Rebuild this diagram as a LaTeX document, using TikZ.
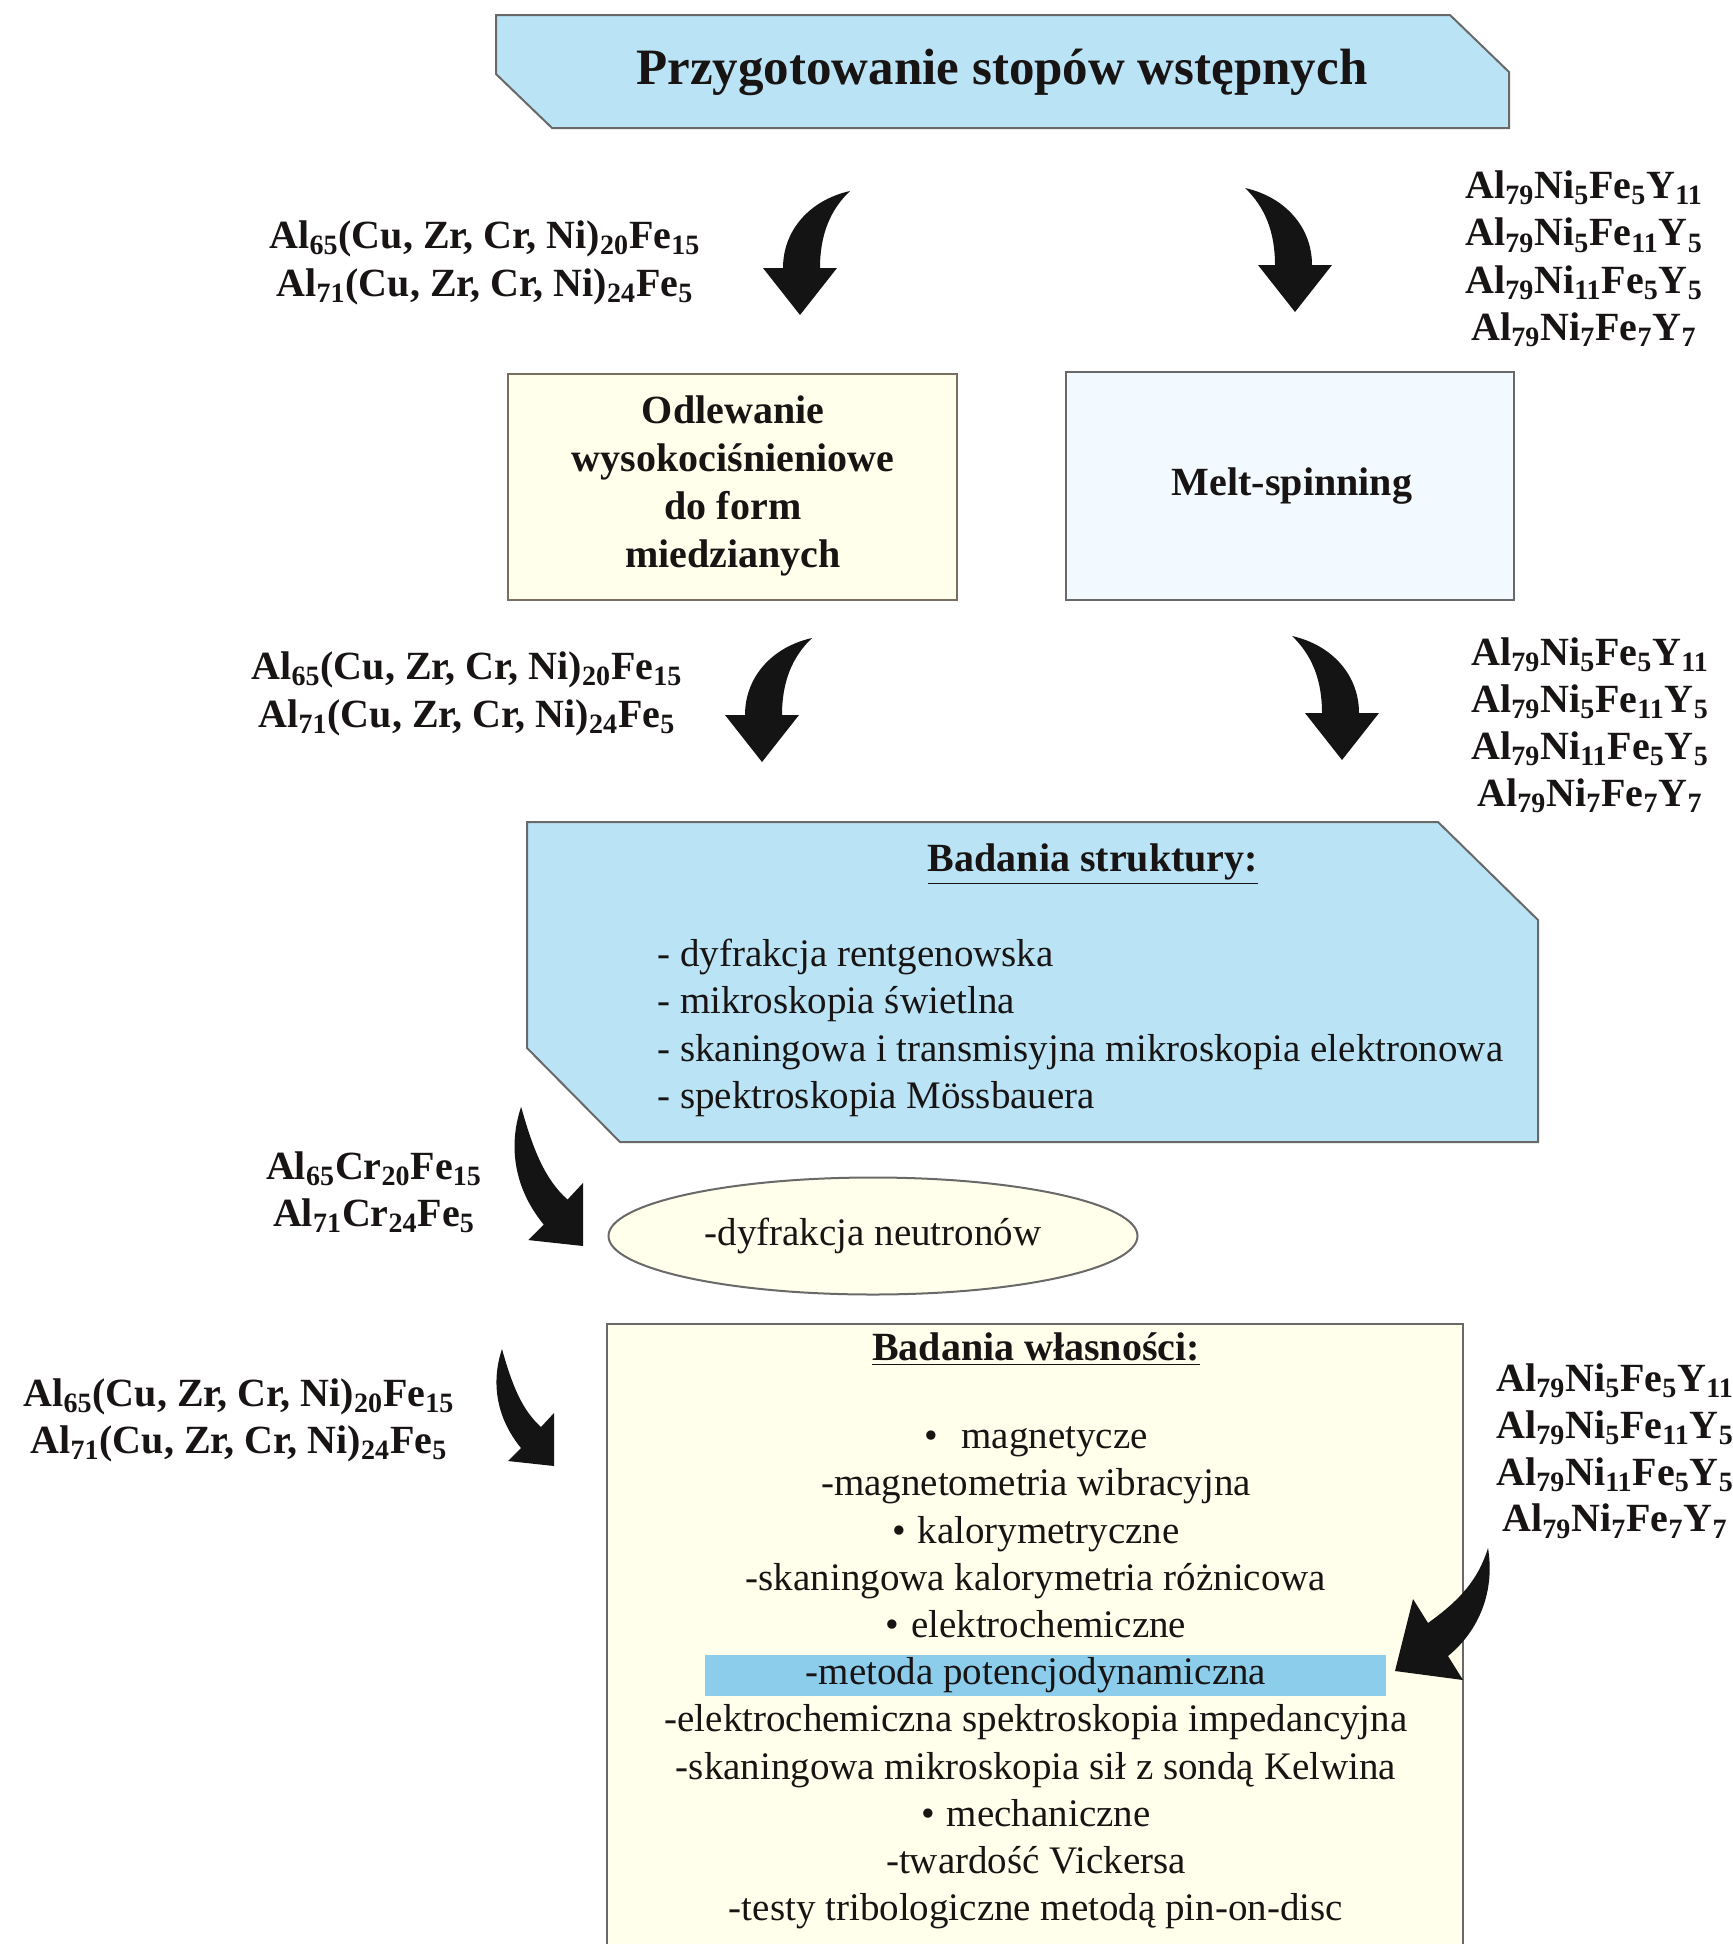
\documentclass[tikz,border=0pt]{standalone}
\usepackage{fontspec}
\setmainfont{Liberation Serif}
\usetikzlibrary{shapes.geometric}
\definecolor{skyfill}{RGB}{186,228,246}
\definecolor{ivoryfill}{RGB}{255,255,236}
\definecolor{palebluefill}{RGB}{243,250,255}
\definecolor{hilite}{RGB}{140,205,235}
\definecolor{edgegray}{RGB}{105,105,105}
\definecolor{ink}{RGB}{25,20,20}
\newcommand\sbs[1]{\textsubscript{#1}}
\tikzset{
  formula/.style={font=\fontsize{20}{24}\selectfont\bfseries, align=center, text=ink, inner sep=0pt},
  boxtitle/.style={font=\fontsize{20}{24}\selectfont\bfseries, align=center, text=ink, inner sep=0pt},
  listtext/.style={font=\fontsize{19.5}{23.8}\selectfont, align=left, text=ink, inner sep=0pt},
  proptext/.style={font=\fontsize{19.5}{23.6}\selectfont, align=center, text=ink, inner sep=0pt},
  shapeedge/.style={draw=edgegray, line width=1pt},
  arrowfill/.style={fill=black!92},
  curvL/.pic={\fill[arrowfill] (0,0) -- (-37,-47) -- (-17,-47) .. controls (-17,-85) and (10,-115) .. (50,-124) .. controls (30,-105) and (20,-80) .. (20,-47) -- (37,-47) -- cycle;},
  curvD/.pic={\fill[arrowfill] (0,0) -- (-46,-5) -- (-33,-18) .. controls (-56,-46) and (-64,-81) .. (-52,-117) .. controls (-42,-81) and (-32,-56) .. (-13,-39) -- (0,-53) -- cycle;}
}
\begin{document}
\begin{tikzpicture}[x=0.5pt,y=-0.5pt]
\useasboundingbox[fill=white] (0,0) rectangle (1733,1944);

% top box
\path[shapeedge, fill=skyfill] (496,15) -- (1450,15) -- (1509,72) -- (1509,128) -- (552,128) -- (496,74) -- cycle;
\node[font=\fontsize{25.5}{30}\selectfont\bfseries, text=ink] (prep) at (1002,72) {Przygotowanie stopów wstępnych};

% first arrows and formulas
\pic (a1l) at (800,315) {curvL};
\pic[xscale=-1] (a1r) at (1295,312) {curvL};
\node[formula] (f1l) at (485,263) {Al\sbs{65}(Cu, Zr, Cr, Ni)\sbs{20}Fe\sbs{15}\\Al\sbs{71}(Cu, Zr, Cr, Ni)\sbs{24}Fe\sbs{5}};
\node[formula, font=\fontsize{20}{23.7}\selectfont\bfseries] (f1r) at (1584,259) {Al\sbs{79}Ni\sbs{5}Fe\sbs{5}Y\sbs{11}\\Al\sbs{79}Ni\sbs{5}Fe\sbs{11}Y\sbs{5}\\Al\sbs{79}Ni\sbs{11}Fe\sbs{5}Y\sbs{5}\\Al\sbs{79}Ni\sbs{7}Fe\sbs{7}Y\sbs{7}};

% process boxes
\path[shapeedge, draw=edgegray!80!brown, fill=ivoryfill] (508,374) rectangle (957,600);
\node[boxtitle] (cast) at (733,486) {Odlewanie\\wysokociśnieniowe\\do form\\miedzianych};
\path[shapeedge, fill=palebluefill] (1066,372) rectangle (1514,600);
\node[boxtitle] (melt) at (1292,486) {Melt-spinning};

% second arrows and formulas
\pic (a2l) at (762,762) {curvL};
\pic[xscale=-1] (a2r) at (1342,760) {curvL};
\node[formula] (f2l) at (467,694) {Al\sbs{65}(Cu, Zr, Cr, Ni)\sbs{20}Fe\sbs{15}\\Al\sbs{71}(Cu, Zr, Cr, Ni)\sbs{24}Fe\sbs{5}};
\node[formula, font=\fontsize{20}{23.5}\selectfont\bfseries] (f2r) at (1590,725) {Al\sbs{79}Ni\sbs{5}Fe\sbs{5}Y\sbs{11}\\Al\sbs{79}Ni\sbs{5}Fe\sbs{11}Y\sbs{5}\\Al\sbs{79}Ni\sbs{11}Fe\sbs{5}Y\sbs{5}\\Al\sbs{79}Ni\sbs{7}Fe\sbs{7}Y\sbs{7}};

% structure box
\path[shapeedge, fill=skyfill] (527,822) -- (1438,822) -- (1538,920) -- (1538,1142) -- (620,1142) -- (527,1048) -- cycle;
\node[boxtitle] (strtitle) at (1093,864) {\underline{Badania struktury:}};
\node[listtext, anchor=west] (strlist) at (657,1028) {- dyfrakcja rentgenowska\\- mikroskopia świetlna\\- skaningowa i transmisyjna mikroskopia elektronowa\\- spektroskopia Mössbauera};

% neutron diffraction
\pic[scale=1.19] (a3) at (583,1246) {curvD};
\node[formula, font=\fontsize{20}{23.5}\selectfont\bfseries] (f3) at (374,1192) {Al\sbs{65}Cr\sbs{20}Fe\sbs{15}\\Al\sbs{71}Cr\sbs{24}Fe\sbs{5}};
\node[ellipse, draw=edgegray, line width=1pt, fill=ivoryfill, minimum width=264.5pt, minimum height=58.5pt, inner sep=0pt, font=\fontsize{19.5}{23}\selectfont, text=ink] (neutron) at (873,1236) {-dyfrakcja neutronów};

% properties box
\fill[ivoryfill] (607,1324) rectangle (1463,1944);
\draw[shapeedge] (607,1944) -- (607,1324) -- (1463,1324) -- (1463,1944);
\fill[hilite] (705,1655) rectangle (1386,1696);
\node[boxtitle] (proptitle) at (1036,1349) {\underline{Badania własności:}};
\node[proptext] (proplist) at (1036,1678) {•\hspace{0.6em}magnetycze\\-magnetometria wibracyjna\\•\hspace{0.3em}kalorymetryczne\\-skaningowa kalorymetria różnicowa\\•\hspace{0.3em}elektrochemiczne\\-metoda potencjodynamiczna\\-elektrochemiczna spektroskopia impedancyjna\\-skaningowa mikroskopia sił z sondą Kelwina\\•\hspace{0.3em}mechaniczne\\-twardość Vickersa\\-testy tribologiczne metodą pin-on-disc};

\pic (a4) at (554,1466) {curvD};
\node[formula, font=\fontsize{20}{23.5}\selectfont\bfseries] (f4) at (239,1420) {Al\sbs{65}(Cu, Zr, Cr, Ni)\sbs{20}Fe\sbs{15}\\Al\sbs{71}(Cu, Zr, Cr, Ni)\sbs{24}Fe\sbs{5}};

\fill[arrowfill] (1395,1671) -- (1413,1599) -- (1428,1623) .. controls (1460,1600) and (1478,1580) .. (1488,1548) .. controls (1495,1590) and (1480,1630) .. (1448,1656) -- (1463,1680) -- cycle;
\node[formula, font=\fontsize{20}{23.4}\selectfont\bfseries] (f5) at (1615,1451) {Al\sbs{79}Ni\sbs{5}Fe\sbs{5}Y\sbs{11}\\Al\sbs{79}Ni\sbs{5}Fe\sbs{11}Y\sbs{5}\\Al\sbs{79}Ni\sbs{11}Fe\sbs{5}Y\sbs{5}\\Al\sbs{79}Ni\sbs{7}Fe\sbs{7}Y\sbs{7}};
\end{tikzpicture}
\end{document}
